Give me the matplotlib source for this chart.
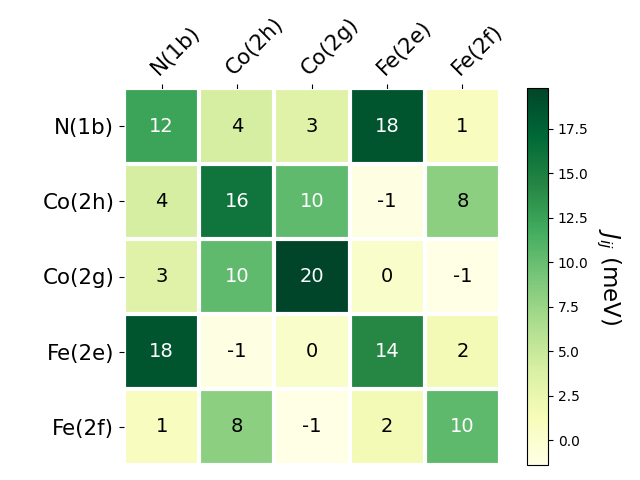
import numpy as np
import matplotlib
matplotlib.use("Agg")
import matplotlib.pyplot as plt

# sitios y constantes de intercambio (meV)
sitios = ["N(1b)", "Co(2h)", "Co(2g)", "Fe(2e)", "Fe(2f)"]
fila_n1b = [12.3, 4.1, 3.4, 18.5, 0.9]
fila_co2h = [4.1, 15.9, 10.3, -1.2, 8.2]
fila_co2g = [3.4, 10.3, 19.8, 0.3, -1.4]
fila_fe2e = [18.5, -1.2, 0.3, 14.2, 1.7]
fila_fe2f = [0.9, 8.2, -1.4, 1.7, 10.4]

J = np.array([fila_n1b, fila_co2h, fila_co2g, fila_fe2e, fila_fe2f])

fig = plt.figure(figsize=(6.4, 4.8), dpi=100)
ax = fig.add_axes([124 / 640, 15 / 480, 376 / 640, 377 / 480])
cax = fig.add_axes([527 / 640, 15 / 480, 21 / 640, 377 / 480])

im = ax.imshow(J, cmap="YlGn")
cbar = fig.colorbar(im, cax=cax)
cbar.ax.set_ylabel("$J_{ij}$ (meV)", rotation=-90, va="bottom", fontsize=16.5)

ax.set_xticks(np.arange(len(sitios)), labels=sitios, fontsize=15.4)
ax.set_yticks(np.arange(len(sitios)), labels=sitios, fontsize=15.4)
ax.tick_params(top=True, bottom=False, labeltop=True, labelbottom=False)
plt.setp(ax.get_xticklabels(), rotation=45, ha="left", rotation_mode="anchor")

# rejilla blanca entre celdas
ax.spines[:].set_visible(False)
ax.set_xticks(np.arange(len(sitios) + 1) - .5, minor=True)
ax.set_yticks(np.arange(len(sitios) + 1) - .5, minor=True)
ax.grid(which="minor", color="w", linestyle="-", linewidth=3)
ax.tick_params(which="minor", bottom=False, left=False, top=False)

umbral = im.norm(J.max()) / 2.
for i in range(len(sitios)):
    for j in range(len(sitios)):
        color = "white" if im.norm(J[i, j]) > umbral else "black"
        ax.text(j, i, f"{J[i, j]:.0f}", ha="center", va="center", color=color, fontsize=14)

fig.savefig("out.png", dpi=100)
